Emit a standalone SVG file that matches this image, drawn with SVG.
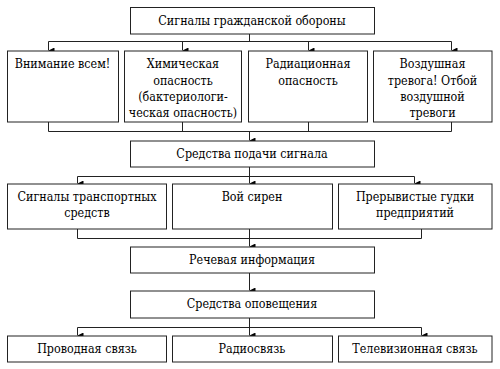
<svg xmlns="http://www.w3.org/2000/svg" width="500" height="369" viewBox="0 0 500 369">
<defs>
<marker id="ah" markerWidth="6" markerHeight="6" refX="3" refY="6" orient="auto-start-reverse" markerUnits="userSpaceOnUse" viewBox="0 0 6 6">
<path d="M0,0 L6,0 L3,6 Z" fill="#000"/>
</marker>
</defs>
<style>
rect{fill:#fff;stroke:#222;stroke-width:1}
.t text{font-size:12.4px;fill:#000;text-anchor:middle}
#connectors path{fill:none;stroke:#222;stroke-width:1}
.a{marker-end:url(#ah)}
</style>
<rect width="500" height="369" style="fill:#fff;stroke:none"/>
<g id="connectors">
<path d="M249.5,34 V41.5 M48.5,41.5 H451.5"/>
<path class="a" d="M48.5,41.5 V50.5"/>
<path class="a" d="M182.5,41.5 V50.5"/>
<path class="a" d="M308.5,41.5 V50.5"/>
<path class="a" d="M451.5,41.5 V50.5"/>
<path d="M48.5,122 V131.5 M182.5,122 V131.5 M308.5,122 V131.5 M451.5,122 V131.5 M48.5,131.5 H451.5"/>
<path class="a" d="M249.5,131.5 V140.5"/>
<path class="a" d="M249.5,167 V183.5"/>
<path d="M77.5,176.5 H414.5"/>
<path class="a" d="M77.5,176.5 V183.5"/>
<path class="a" d="M414.5,176.5 V183.5"/>
<path d="M77.5,229 V238.5 H421.5 V229"/>
<path class="a" d="M249.5,229 V246.5"/>
<path class="a" d="M249.5,273 V290.5"/>
<path class="a" d="M249.5,318 V335.5"/>
<path d="M77.5,327.5 H421.5"/>
<path class="a" d="M77.5,327.5 V335.5"/>
<path class="a" d="M421.5,327.5 V335.5"/>
</g>
<g class="t" font-family="DejaVu Serif Condensed, DejaVu Serif, serif">
<g id="n_title"><rect x="130.5" y="7.5" width="244" height="26.5"/><text x="252" y="25">Сигналы гражданской обороны</text></g>
<g id="n_attention"><rect x="7.5" y="51" width="111" height="71"/><text x="62.5" y="68">Внимание всем!</text></g>
<g id="n_chem"><rect x="124.5" y="51" width="117" height="71"/><text x="183" y="68">Химическая</text><text x="183" y="84.5">опасность</text><text x="183" y="101">(бактериологи-</text><text x="183" y="117">ческая опасность)</text></g>
<g id="n_rad"><rect x="248.5" y="51" width="119" height="71"/><text x="308" y="68">Радиационная</text><text x="308" y="84.5">опасность</text></g>
<g id="n_air"><rect x="373.5" y="51" width="118.5" height="71"/><text x="432.5" y="68">Воздушная</text><text x="432.5" y="84.5">тревога! Отбой</text><text x="432.5" y="101">воздушной</text><text x="432.5" y="117">тревоги</text></g>
<g id="n_means"><rect x="130.5" y="141" width="244" height="26"/><text x="252" y="158">Средства подачи сигнала</text></g>
<g id="n_transport"><rect x="7.5" y="184" width="159" height="45"/><text x="87" y="201">Сигналы транспортных</text><text x="87" y="217">средств</text></g>
<g id="n_siren"><rect x="172.5" y="184" width="160" height="45"/><text x="252" y="201">Вой сирен</text></g>
<g id="n_horns"><rect x="338.5" y="184" width="153.5" height="45"/><text x="415" y="201">Прерывистые гудки</text><text x="415" y="217">предприятий</text></g>
<g id="n_speech"><rect x="130.5" y="247" width="244" height="26"/><text x="252" y="264">Речевая информация</text></g>
<g id="n_notify"><rect x="130.5" y="291" width="244" height="27"/><text x="252" y="308">Средства оповещения</text></g>
<g id="n_wire"><rect x="7.5" y="336" width="159" height="26"/><text x="87" y="353">Проводная связь</text></g>
<g id="n_radio"><rect x="172.5" y="336" width="160" height="26"/><text x="252" y="353">Радиосвязь</text></g>
<g id="n_tv"><rect x="338.5" y="336" width="153.5" height="26"/><text x="415" y="353">Телевизионная связь</text></g>
</g>
</svg>
